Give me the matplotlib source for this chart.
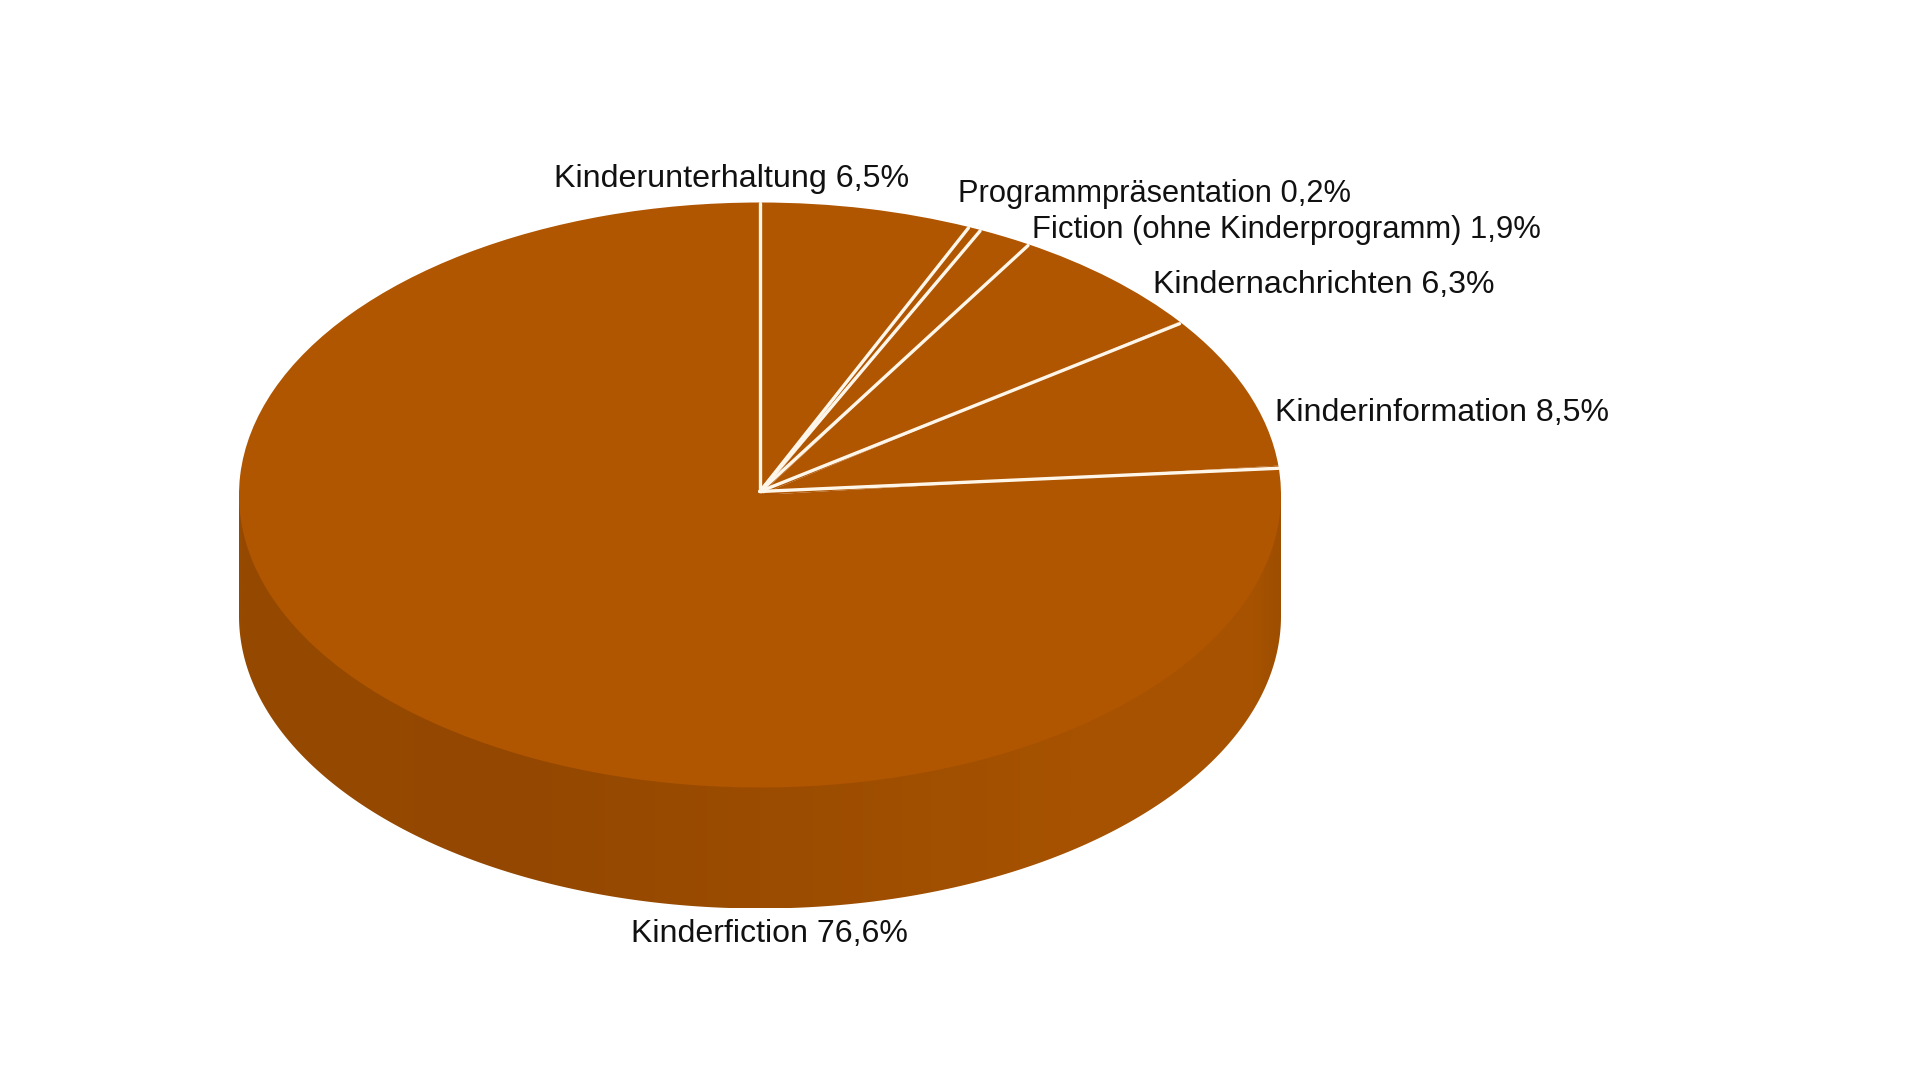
import numpy as np
import matplotlib
matplotlib.use("Agg")
import matplotlib.pyplot as plt
from matplotlib.patches import Polygon
from matplotlib.colors import LinearSegmentedColormap

plt.rcParams['font.family'] = ['Liberation Sans', 'DejaVu Sans']

# clockwise from 12 o'clock
labels = ["Kinderunterhaltung", "Programmpräsentation",
          "Fiction (ohne Kinderprogramm)", "Kindernachrichten",
          "Kinderinformation", "Kinderfiction"]
share_text = ["6,5%", "0,2%", "1,9%", "6,3%", "8,5%", "76,6%"]
# slice sizes as drawn in the picture (the 0,2% sliver is drawn wider than its label)
values = [6.55, 0.39, 1.66, 6.3, 8.5, 76.6]

top_color = "#b05500"
line_color = "#fff6ea"

# pie geometry in image pixels
W, H = 1920, 1080
cx, cy = 760, 495
rx, ry = 521, 292.5
depth = 121 / ry

fig = plt.figure(figsize=(W / 100, H / 100), dpi=100, facecolor="white")
ax = fig.add_axes([0, 0, 1, 1])

# flat pie, the squashed y limits below turn it into the ellipse
ax.pie(values, startangle=90, counterclock=False, radius=1,
       colors=[top_color] * len(values), wedgeprops={"linewidth": 0, "zorder": 2})

# side wall of the disc, horizontal gradient clipped to its outline
side_cmap = LinearSegmentedColormap.from_list("side", [
    (0.0, "#964a00"), (0.25, "#934700"), (0.5, "#9b4c00"),
    (0.8, "#a65200"), (0.97, "#a85300"), (1.0, "#9e4e00")])
grad = np.linspace(0, 1, 512).reshape(1, -1)
im = ax.imshow(grad, cmap=side_cmap, extent=(-1, 1, -1 - depth, 0),
               aspect="auto", zorder=1)
t = np.linspace(np.pi, 2 * np.pi, 600)
outline = np.column_stack([np.cos(t), -depth + np.sin(t)])
outline = np.vstack([[-1, 0.2], outline, [1, 0.2]])
clip = Polygon(outline, transform=ax.transData, facecolor="none", edgecolor="none")
ax.add_patch(clip)
im.set_clip_path(clip)

ax.set_aspect("auto")
ax.set_xlim(-cx / rx, (W - cx) / rx)
ax.set_ylim(-(H - cy) / ry, cy / ry)
ax.axis("off")

# white separators, the reference's hub sits a little above the ellipse centre
angles = np.radians(np.cumsum([0] + values[:-1]) * 3.6)
for a in angles:
    ax.plot([0, np.sin(a)], [0.012, np.cos(a) - 0.009 * np.sin(a)],
            color=line_color, lw=2.4, solid_capstyle="round", zorder=3)

# left edge, baseline (pixels) and font size of each label
label_pos = [(554, 187), (958, 202), (1032, 238), (1153, 293), (1275, 421), (631, 942)]
label_size = [23.25, 22.2, 22.3, 23.15, 23.15, 23.1]
for name, share, (px, py), size in zip(labels, share_text, label_pos, label_size):
    fig.text(px / W, 1 - py / H, f"{name} {share}", fontsize=size, color="#111111",
             ha="left", va="baseline")

fig.savefig("out.png", dpi=100)
